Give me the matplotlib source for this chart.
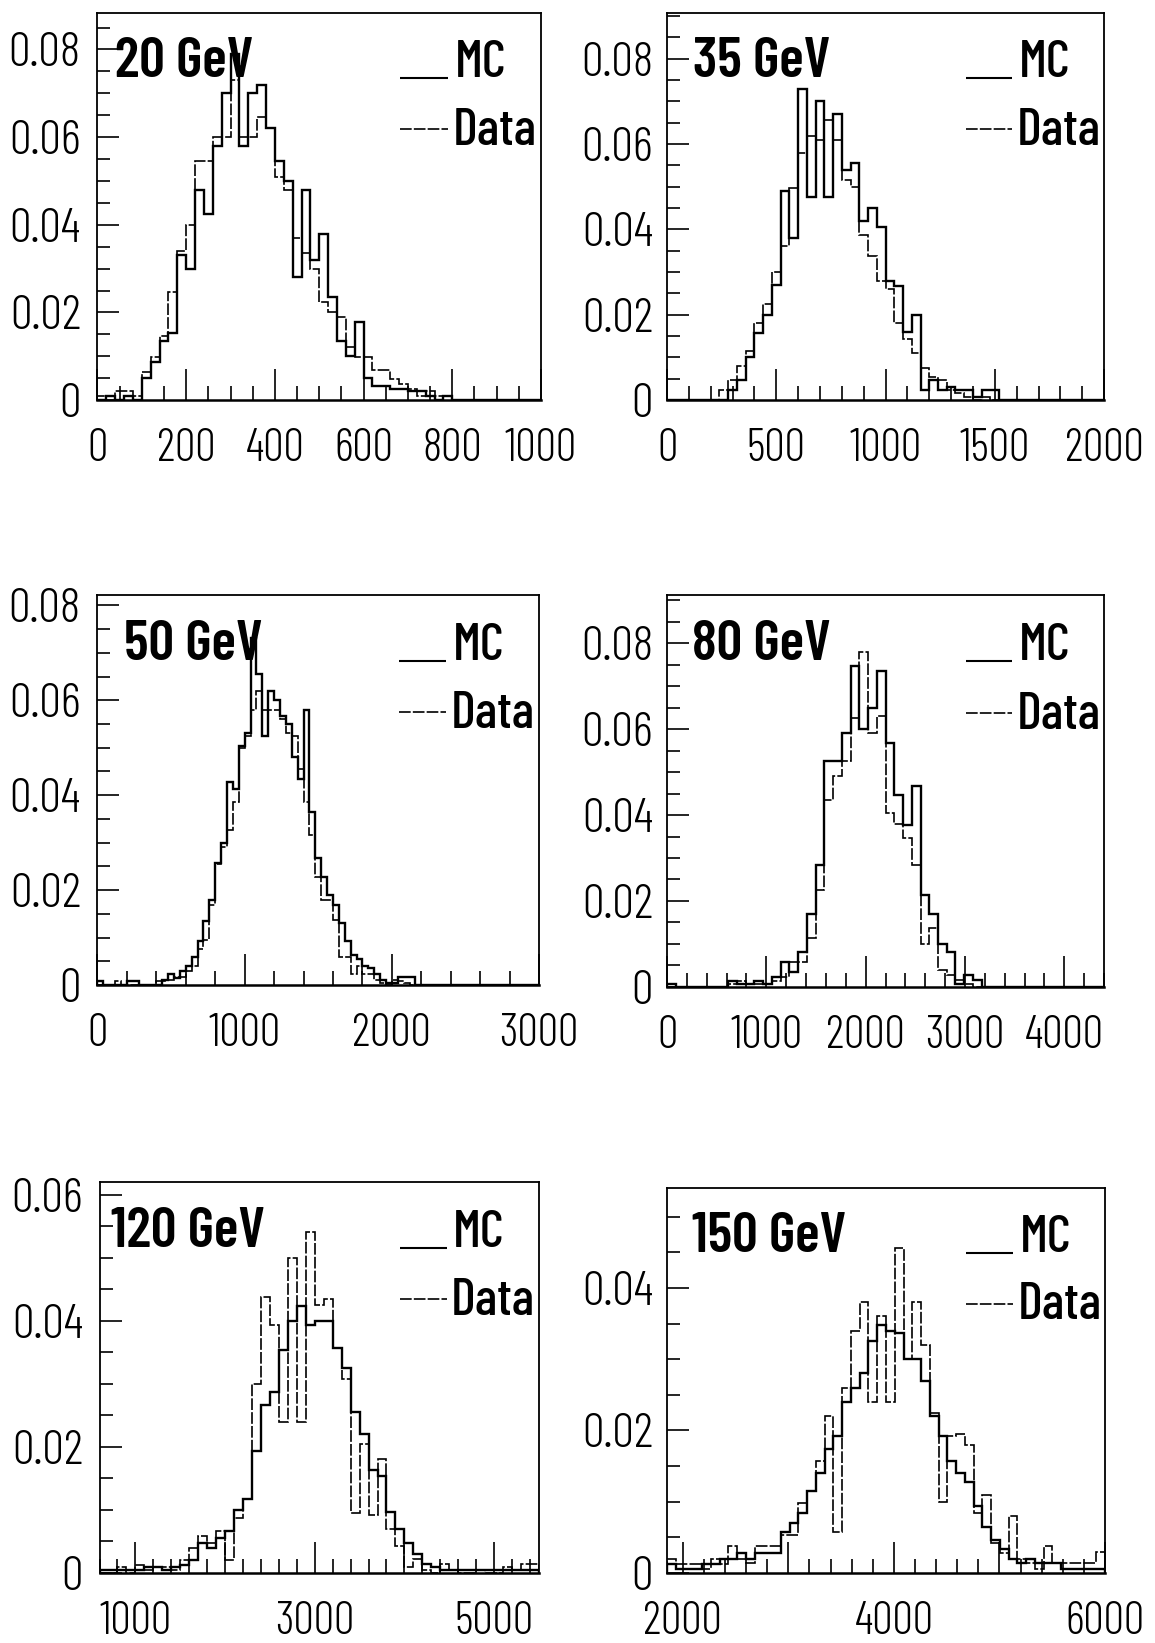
import matplotlib
matplotlib.use('Agg')
import matplotlib.pyplot as plt
from matplotlib.ticker import MultipleLocator, FuncFormatter
import numpy as np

# ---------------- data ----------------
energies = ['20 GeV', '35 GeV', '50 GeV', '80 GeV', '120 GeV', '150 GeV']
bin_start = [0, 0, 0, 0, 600, 1850]
bin_width = [20, 40, 40, 88, 100, 83]
x_limits = [(0, 1000), (0, 2000), (0, 3000), (0, 4400), (600, 5500), (1850, 6000)]
y_limits = [0.0884, 0.0908, 0.0822, 0.0912, 0.062, 0.054]
x_tick_labels = [
    ['0', '200', '400', '600', '800', '1000'],
    ['0', '500', '1000', '1500', '2000'],
    ['0', '1000', '2000', '3000'],
    ['0', '1000', '2000', '3000', '4000'],
    ['1000', '3000', '5000'],
    ['2000', '4000', '6000'],
]
y_tick_labels = [
    ['0', '0.02', '0.04', '0.06', '0.08'],
    ['0', '0.02', '0.04', '0.06', '0.08'],
    ['0', '0.02', '0.04', '0.06', '0.08'],
    ['0', '0.02', '0.04', '0.06', '0.08'],
    ['0', '0.02', '0.04', '0.06'],
    ['0', '0.02', '0.04'],
]

mc_20 = [0, 0.001, 0.0, 0.001, 0.0, 0.005, 0.0088, 0.0134, 0.0154, 0.033,
         0.030, 0.048, 0.0425, 0.058, 0.070, 0.079, 0.058, 0.070, 0.072, 0.062,
         0.0545, 0.050, 0.028, 0.048, 0.032, 0.038, 0.0235, 0.0134, 0.010, 0.0177,
         0.005, 0.0033, 0.0033, 0.0026, 0.0026, 0.002, 0.002, 0.001, 0.0, 0.001,
         0, 0, 0, 0, 0, 0, 0, 0, 0, 0]
data_20 = [0.001, 0.001, 0.002, 0.002, 0.001, 0.0064, 0.0099, 0.0146, 0.0247, 0.034,
           0.040, 0.0545, 0.0545, 0.060, 0.060, 0.073, 0.060, 0.060, 0.0646, 0.062,
           0.051, 0.048, 0.037, 0.0336, 0.030, 0.0223, 0.020, 0.0189, 0.012, 0.0099,
           0.0099, 0.0068, 0.0068, 0.0049, 0.0037, 0.0025, 0.001, 0.002, 0.001, 0.001,
           0, 0, 0, 0, 0, 0, 0, 0, 0, 0]

mc_35 = [0, 0, 0, 0, 0, 0, 0, 0.0024, 0.0047, 0.0102,
         0.0157, 0.020, 0.027, 0.049, 0.038, 0.073, 0.0476, 0.070, 0.0476, 0.067,
         0.054, 0.0555, 0.042, 0.0449, 0.0405, 0.028, 0.0268, 0.016, 0.020, 0.0024,
         0.0047, 0.0024, 0.0031, 0.0024, 0.0024, 0.0008, 0.0024, 0.0024, 0, 0,
         0, 0, 0, 0, 0, 0, 0, 0, 0, 0]
data_35 = [0, 0, 0, 0, 0, 0, 0.0024, 0.0047, 0.0079, 0.0114,
           0.018, 0.0224, 0.030, 0.036, 0.0496, 0.058, 0.062, 0.061, 0.0657, 0.061,
           0.0515, 0.050, 0.0386, 0.0338, 0.028, 0.026, 0.018, 0.0142, 0.011, 0.0075,
           0.0055, 0.0047, 0.0024, 0.0016, 0.0008, 0, 0.0008, 0, 0, 0,
           0, 0, 0, 0, 0, 0, 0, 0, 0, 0]

mc_50 = [0.0008, 0, 0, 0, 0, 0.0008, 0.0008, 0, 0, 0,
         0, 0.001, 0.0023, 0.0014, 0.003, 0.004, 0.006, 0.0092, 0.0134, 0.0179,
         0.0258, 0.030, 0.0428, 0.0414, 0.0504, 0.053, 0.0732, 0.0656, 0.0525, 0.062,
         0.060, 0.0566, 0.055, 0.048, 0.0435, 0.058, 0.0365, 0.0268, 0.0227, 0.019,
         0.0168, 0.013, 0.0092, 0.0064, 0.0054, 0.004, 0.0035, 0.0023, 0.001, 0.0005,
         0.0005, 0.0016, 0.0016, 0.0016, 0, 0, 0, 0, 0, 0,
         0, 0, 0, 0, 0, 0, 0, 0, 0, 0, 0, 0, 0, 0, 0]
data_50 = [0, 0, 0, 0.0008, 0, 0, 0, 0, 0, 0,
           0.0008, 0.0008, 0.001, 0.0016, 0.0016, 0.003, 0.004, 0.0075, 0.0095, 0.0168,
           0.0255, 0.029, 0.0327, 0.0386, 0.050, 0.0525, 0.058, 0.062, 0.058, 0.058,
           0.058, 0.056, 0.053, 0.0525, 0.0455, 0.0386, 0.0317, 0.0227, 0.018, 0.018,
           0.0137, 0.006, 0.006, 0.0023, 0.004, 0.0023, 0.0023, 0.001, 0.0005, 0,
           0.001, 0.0008, 0.0005, 0, 0, 0, 0, 0, 0, 0,
           0, 0, 0, 0, 0, 0, 0, 0, 0, 0, 0, 0, 0, 0, 0]

mc_80 = [0.0008, 0, 0, 0, 0, 0, 0, 0.0015, 0.0008, 0.0008,
         0.0015, 0.0008, 0.0023, 0.0058, 0.0035, 0.0082, 0.017, 0.0284, 0.0525, 0.0525,
         0.059, 0.0747, 0.060, 0.065, 0.0735, 0.0568, 0.0447, 0.0377, 0.0467, 0.0214,
         0.017, 0.010, 0.0082, 0.0008, 0.0027, 0.0016, 0, 0, 0, 0,
         0, 0, 0, 0, 0, 0, 0, 0, 0, 0]
data_80 = [0, 0, 0, 0, 0, 0, 0, 0.0008, 0.0015, 0.0008,
           0.0008, 0.0008, 0.0015, 0.0023, 0.0058, 0.0058, 0.0113, 0.0226, 0.0436, 0.049,
           0.0525, 0.0626, 0.078, 0.059, 0.063, 0.0405, 0.038, 0.0346, 0.0284, 0.0101,
           0.0136, 0.0039, 0.0027, 0.0016, 0.0008, 0, 0, 0, 0, 0,
           0, 0, 0, 0, 0, 0, 0, 0, 0, 0]

mc_120 = [0.0005, 0.0005, 0.0005, 0.0005, 0.0005, 0.001, 0.001, 0.0005, 0.001,
          0.0012, 0.002, 0.0048, 0.004, 0.0056, 0.0066, 0.010, 0.0118, 0.0194, 0.0266, 0.0287,
          0.0353, 0.0399, 0.0423, 0.0394, 0.0399, 0.0399, 0.0356, 0.0325, 0.0256, 0.022,
          0.0164, 0.0154, 0.0097, 0.0069, 0.0048, 0.003, 0.0015, 0.001, 0.0005, 0.0005,
          0.0005, 0.0005, 0.0005, 0.0005, 0.0005, 0.0005, 0.0005, 0.0005, 0.0005]
data_120 = [0.0, 0.0, 0.001, 0.0, 0.0012, 0.0005, 0.001, 0.001, 0.0005,
            0.002, 0.004, 0.0058, 0.0048, 0.0066, 0.002, 0.0087, 0.0118, 0.0299, 0.0438, 0.0394,
            0.024, 0.050, 0.024, 0.054, 0.0425, 0.0435, 0.0356, 0.0307, 0.0095, 0.0205,
            0.0092, 0.018, 0.0069, 0.0043, 0.001, 0.0023, 0.0005, 0.0, 0.0015, 0.0005,
            0.0, 0.0, 0.0005, 0.0, 0.0, 0.001, 0.0005, 0.0015, 0.0015]

mc_150 = [0.0012, 0.0005, 0.0005, 0.0005, 0.0012, 0.0012, 0.0019, 0.0019, 0.0028,
          0.0019, 0.0028, 0.0028, 0.0028, 0.0058, 0.007, 0.0084, 0.0115, 0.014, 0.0174, 0.0192,
          0.024, 0.026, 0.028, 0.0326, 0.0348, 0.034, 0.0337, 0.030, 0.030, 0.027,
          0.022, 0.0192, 0.0157, 0.014, 0.0128, 0.0094, 0.0064, 0.0047, 0.0033, 0.0019,
          0.0014, 0.0019, 0.0014, 0.0014, 0.0014, 0.0005, 0.0005, 0.0005, 0.0005, 0.0005]
data_150 = [0.002, 0.0012, 0.0012, 0.0012, 0.0005, 0.002, 0.0012, 0.0038, 0.0019,
            0.0014, 0.0038, 0.0038, 0.0038, 0.0053, 0.0053, 0.0098, 0.0115, 0.0157, 0.022, 0.0058,
            0.026, 0.034, 0.038, 0.024, 0.036, 0.024, 0.0456, 0.030, 0.038, 0.032,
            0.0225, 0.010, 0.0192, 0.0195, 0.018, 0.0084, 0.011, 0.0042, 0.0028, 0.008,
            0.0019, 0.0014, 0.0005, 0.0038, 0.0014, 0.0014, 0.0014, 0.0014, 0.0014, 0.003]

mc_series = [mc_20, mc_35, mc_50, mc_80, mc_120, mc_150]
data_series = [data_20, data_35, data_50, data_80, data_120, data_150]

# ---------------- layout / style ----------------
x_major = [200, 500, 1000, 1000, 1000, 1000]
x_minor = [50, 100, 200, 200, 200, 200]
axes_rects = [
    (0.0844, 0.7565, 0.3840, 0.2358),
    (0.5775, 0.7565, 0.3784, 0.2358),
    (0.0844, 0.4005, 0.3823, 0.2374),
    (0.5775, 0.3993, 0.3784, 0.2386),
    (0.0862, 0.0426, 0.3804, 0.2380),
    (0.5775, 0.0426, 0.3792, 0.2343),
]
title_x = [0.04, 0.06, 0.06, 0.057, 0.025, 0.056]
ypads = [12, 10, 12, 10, 12, 10]

FONT = ['Barlow Condensed', 'Archivo Narrow', 'DejaVu Sans']
plt.rcParams['font.family'] = FONT
plt.rcParams['font.weight'] = 300

DATA_LS = (0, (7, 1.3))

fig = plt.figure(figsize=(11.55, 16.43), dpi=100)

for k in range(6):
    ax = fig.add_axes(axes_rects[k])
    n = len(mc_series[k])
    edges = bin_start[k] + bin_width[k] * np.arange(n + 1)
    ax.stairs(mc_series[k], edges, color='black', lw=1.7, baseline=0)
    ax.stairs(data_series[k], edges, color='black', lw=1.2,
              linestyle=DATA_LS, baseline=0)

    ax.set_xlim(*x_limits[k])
    ax.set_ylim(0, y_limits[k])

    for sp in ax.spines.values():
        sp.set_linewidth(1.3)
    ax.spines['bottom'].set_linewidth(1.8)

    labels_x = [float(s) for s in x_tick_labels[k]]
    ax.xaxis.set_major_locator(MultipleLocator(x_major[k]))
    ax.xaxis.set_minor_locator(MultipleLocator(x_minor[k]))
    ax.xaxis.set_major_formatter(FuncFormatter(
        lambda v, p, L=labels_x: ('%d' % round(v)) if any(abs(v - t) < 1e-6 for t in L) else ''))
    labels_y = [float(s) for s in y_tick_labels[k]]
    ax.yaxis.set_major_locator(MultipleLocator(0.02))
    ax.yaxis.set_minor_locator(MultipleLocator(0.005))
    ax.yaxis.set_major_formatter(FuncFormatter(
        lambda v, p, L=labels_y, S=y_tick_labels[k]: next((s for t, s in zip(L, S) if abs(v - t) < 1e-9), '')))

    ax.tick_params(axis='x', which='major', direction='in', length=22, width=1.2,
                   labelsize=33, pad=20, top=False)
    ax.tick_params(axis='x', which='minor', direction='in', length=10, width=1.2, top=False)
    ax.tick_params(axis='y', which='major', direction='in', length=16, width=1.2,
                   labelsize=35, pad=ypads[k], right=False)
    ax.tick_params(axis='y', which='minor', direction='in', length=9.5, width=1.2, right=False)

    # energy label
    ax.text(title_x[k], 0.833, energies[k], transform=ax.transAxes,
            fontsize=41, fontweight=600, ha='left', va='baseline')
    # legend drawn by hand
    ax.plot([0.683, 0.79], [0.831, 0.831], transform=ax.transAxes,
            color='black', lw=1.5, solid_capstyle='butt', clip_on=False)
    ax.text(0.805, 0.833, 'MC', transform=ax.transAxes, fontsize=38,
            fontweight=500, ha='left', va='baseline')
    ax.plot([0.683, 0.79], [0.70, 0.70], transform=ax.transAxes,
            color='black', lw=1.2, linestyle=DATA_LS, clip_on=False)
    ax.text(0.80, 0.659, 'Data', transform=ax.transAxes, fontsize=38,
            fontweight=500, ha='left', va='baseline')

fig.savefig('out.png', dpi=100)
